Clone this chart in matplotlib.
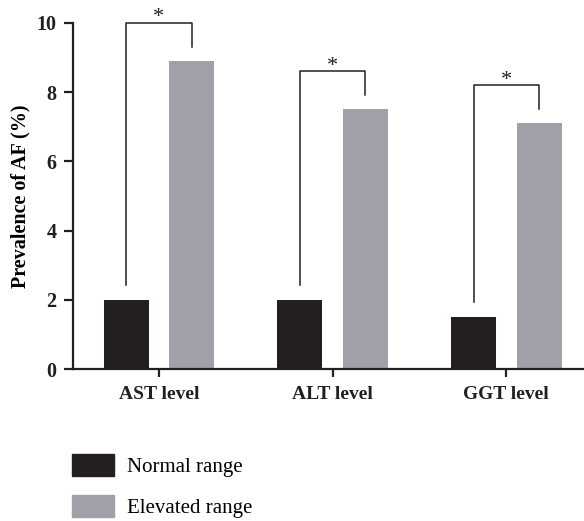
import numpy as np
import matplotlib
matplotlib.use('Agg')
import matplotlib.pyplot as plt
from matplotlib.patches import Patch

plt.rcParams['font.family'] = ['Liberation Serif', 'DejaVu Serif']

categories = ['AST level', 'ALT level', 'GGT level']
normal = [2.0, 2.0, 1.5]
elevated = [8.9, 7.5, 7.1]
series_names = ['Normal range', 'Elevated range']
yticks = [0, 2, 4, 6, 8, 10]

black = '#231f20'
grey = '#a0a1a8'

fig = plt.figure(figsize=(5.84, 5.21), dpi=100)
ax = fig.add_axes([0.125, 0.2917, 0.873, 0.6642])

x = np.arange(len(categories))
w = 0.259
off = 0.188
ax.bar(x - off, normal, w, color=black)
ax.bar(x + off, elevated, w, color=grey)

# significance brackets
for i in range(len(categories)):
    x0 = x[i] - off
    x1 = x[i] + off
    top = elevated[i] + 1.1
    ax.plot([x0, x0, x1, x1], [normal[i] + 0.43, top, top, elevated[i] + 0.41],
            color=black, lw=1.1, clip_on=False)
    ax.text(x[i], top + 0.02, '*', ha='center', va='baseline',
            fontsize=16, color=black, clip_on=False)

ax.set_xlim(-0.494, 2.44)
ax.set_ylim(0, 10)
ax.set_yticks(yticks)
ax.set_xticks(x)
ax.set_xticklabels(categories, fontweight='bold', fontsize=14)
ax.set_yticklabels([str(t) for t in yticks], fontweight='bold', fontsize=14.5)
ax.set_ylabel('Prevalence of AF (%)', fontweight='bold', fontsize=14.5, labelpad=4)

for s in ['top', 'right']:
    ax.spines[s].set_visible(False)
for s in ['left', 'bottom']:
    ax.spines[s].set_linewidth(1.6)
    ax.spines[s].set_color(black)
ax.tick_params(axis='x', direction='out', length=6, width=1.6, colors=black, pad=6)
ax.tick_params(axis='y', direction='out', length=6.5, width=1.6, colors=black, pad=5.5)

handles = [Patch(color=black), Patch(color=grey)]
fig.legend(handles, series_names, loc='upper left', bbox_to_anchor=(0.1233, 0.1286),
           frameon=False, fontsize=15, borderpad=0, borderaxespad=0,
           handlelength=2.0, handleheight=1.25, handletextpad=0.62, labelspacing=0.85)

fig.savefig('out.png', dpi=100)
